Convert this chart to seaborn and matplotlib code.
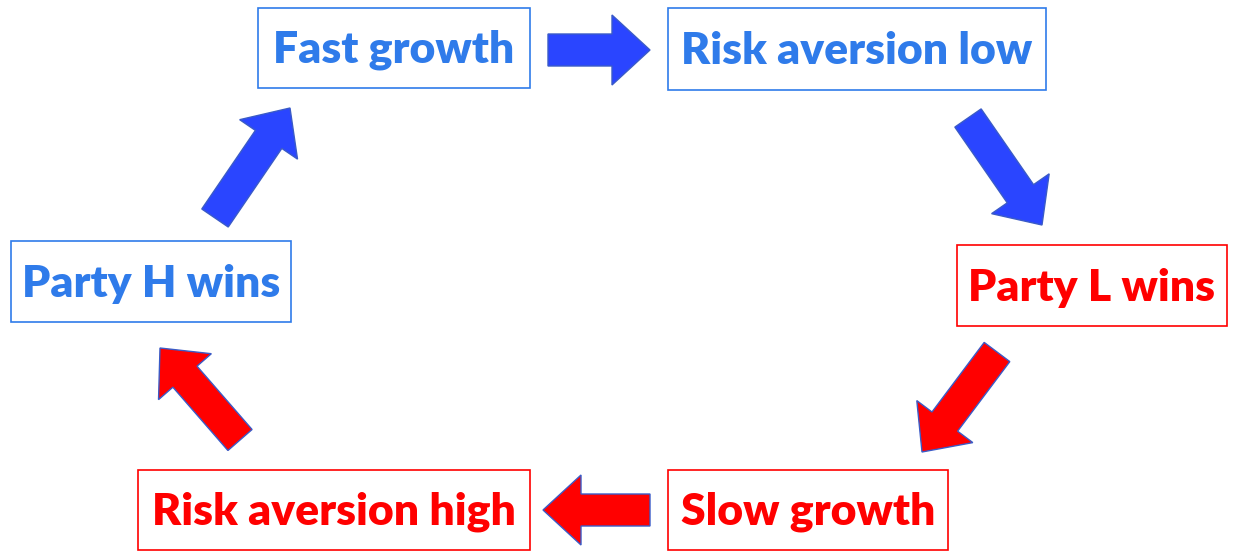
import matplotlib
matplotlib.use("Agg")
import matplotlib.pyplot as plt
import seaborn as sns
from matplotlib.patches import Rectangle, FancyArrow

sns.set_theme(style="white")
plt.rcParams['font.family'] = ['Lato', 'DejaVu Sans']

labels = ["Fast growth", "Risk aversion low", "Party L wins",
          "Slow growth", "Risk aversion high", "Party H wins"]
phase = ["blue", "blue", "red", "red", "red", "blue"]

# layout (pixel boxes: x0, y0, x1, y1)
boxes = [(258, 8, 530, 88), (668, 8, 1046, 90), (957, 245, 1227, 326),
         (668, 470, 948, 550), (138, 470, 530, 550), (11, 241, 291, 322)]
arrows = [((548, 50), (650, 50), "blue"), ((968, 118), (1042, 225), "blue"),
          ((997, 352), (922, 452), "red"), ((650, 510), (543, 510), "red"),
          ((240, 440), (160, 348), "red"), ((215, 218), (290, 108), "blue")]
text_col = {"blue": "#2F7BEA", "red": "#FF0000"}
arrow_col = {"blue": "#2A45FF", "red": "#FF0000"}

fig = plt.figure(figsize=(12.33, 5.52), dpi=100)
ax = fig.add_axes([0, 0, 1, 1])
ax.set_xlim(0, 1233)
ax.set_ylim(552, 0)
ax.axis("off")

for lab, ph, (x0, y0, x1, y1) in zip(labels, phase, boxes):
    ax.add_patch(Rectangle((x0, y0), x1 - x0, y1 - y0, fill=False,
                           edgecolor=text_col[ph], lw=1.2))
    ax.text((x0 + x1) / 2, (y0 + y1) / 2 + 2, lab, ha="center", va="center",
            color=text_col[ph], fontsize=32, fontweight="heavy")

for (sx, sy), (ex, ey), ph in arrows:
    ax.add_patch(FancyArrow(sx, sy, ex - sx, ey - sy, width=32, head_width=70,
                            head_length=38, length_includes_head=True,
                            facecolor=arrow_col[ph], edgecolor="#3A5BC7", lw=1))

fig.savefig("out.png", dpi=100)
